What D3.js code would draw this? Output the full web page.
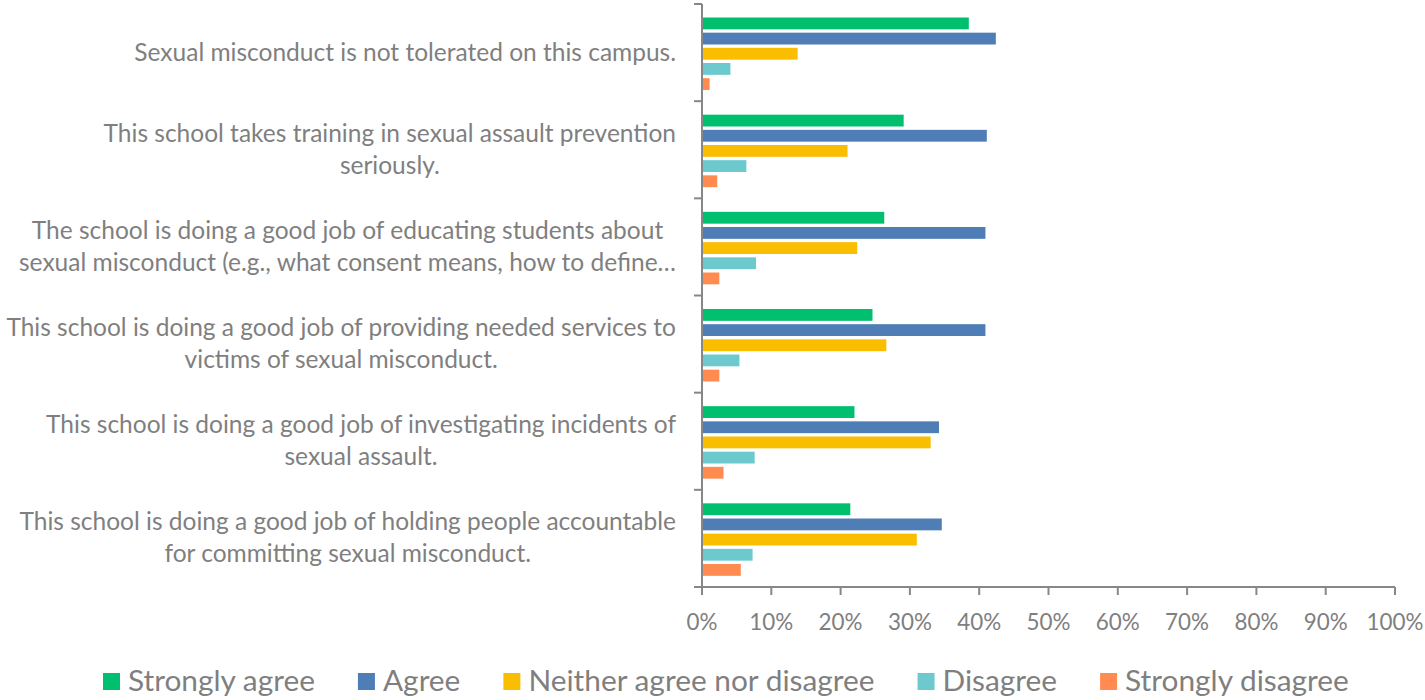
<!DOCTYPE html>
<html><head><meta charset="utf-8">
<script src="https://cdn.jsdelivr.net/npm/d3@7"></script>
<style>body{margin:0;background:#fff}svg{display:block}text{font-family:Lato,"Open Sans",sans-serif}</style>
</head><body><svg id="c" width="1425" height="700"></svg>
<script>
const categories = [
  ["Sexual misconduct is not tolerated on this campus."],
  ["This school takes training in sexual assault prevention", "seriously."],
  ["The school is doing a good job of educating students about", "sexual misconduct (e.g., what consent means, how to define…"],
  ["This school is doing a good job of providing needed services to", "victims of sexual misconduct."],
  ["This school is doing a good job of investigating incidents of", "sexual assault."],
  ["This school is doing a good job of holding people accountable", "for committing sexual misconduct."]
];
const seriesNames = ["Strongly agree", "Agree", "Neither agree nor disagree", "Disagree", "Strongly disagree"];
const stronglyAgree   = [38.5, 29.1, 26.3, 24.6, 22.0, 21.4];
const agree           = [42.4, 41.1, 40.9, 40.9, 34.2, 34.6];
const neither         = [13.8, 21.0, 22.4, 26.6, 33.0, 31.0];
const disagree        = [4.1, 6.4, 7.8, 5.4, 7.6, 7.3];
const stronglyDisagree= [1.1, 2.2, 2.5, 2.5, 3.1, 5.6];
const tickValues = [0,10,20,30,40,50,60,70,80,90,100];
const colors = ["#00BF6F", "#4F7EB7", "#F9BE00", "#6CCACF", "#FF8B50"];
const seriesValues = [stronglyAgree, agree, neither, disagree, stronglyDisagree];

const svg = d3.select("#c");
const x = d3.scaleLinear().domain([0,100]).range([702,1395]);
const y = d3.scaleBand().domain(d3.range(categories.length)).range([4,587]).paddingInner(0).paddingOuter(0);
const inner = d3.scaleBand().domain(d3.range(seriesNames.length)).range([13.5, 86]).paddingInner(0.22).paddingOuter(0);
const axisColor = "#878787", textColor = "#7F7F7F";

function fitSize(sample, target) {
  const t = svg.append("text").attr("font-size", 20).text(sample);
  const w = t.node().getComputedTextLength();
  t.remove();
  return 20 * target / w;
}
const labelSize = Math.min(fitSize(categories[0][0], 549), fitSize(categories[3][0], 670));
const tickSize = fitSize("100%", 57);
const legendSize = fitSize(seriesNames[0], 187);

// bars
seriesValues.forEach((vals, s) => {
  svg.append("g").selectAll("rect").data(vals).join("rect")
    .attr("x", x(0)).attr("y", (d,i) => y(i) + inner(s))
    .attr("width", d => x(d) - x(0)).attr("height", inner.bandwidth())
    .attr("fill", colors[s]);
});

// y axis
const yAxisG = svg.append("g");
yAxisG.append("line").attr("x1", x(0)).attr("x2", x(0)).attr("y1", 4).attr("y2", 587)
  .attr("stroke", axisColor).attr("stroke-width", 2);
const yTicks = d3.range(categories.length + 1).map(i => i < categories.length ? y(i) : 587);
yAxisG.selectAll("line.t").data(yTicks).join("line").attr("class","t")
  .attr("x1", x(0) - 8).attr("x2", x(0)).attr("y1", d => d).attr("y2", d => d)
  .attr("stroke", axisColor).attr("stroke-width", 2);

// x axis
const xAxisG = svg.append("g");
xAxisG.append("line").attr("x1", x(0)-8).attr("x2", x(100)).attr("y1", 587).attr("y2", 587)
  .attr("stroke", axisColor).attr("stroke-width", 2);
xAxisG.selectAll("line.t").data(tickValues).join("line").attr("class","t")
  .attr("x1", d => x(d)).attr("x2", d => x(d)).attr("y1", 587).attr("y2", 595)
  .attr("stroke", axisColor).attr("stroke-width", 2);
xAxisG.selectAll("text").data(tickValues).join("text")
  .attr("x", d => x(d)).attr("y", 630).attr("text-anchor", "middle")
  .attr("font-size", tickSize).attr("fill", textColor).text(d => d + "%");

// category labels: lines centered, block right-aligned at 676
categories.forEach((lines, i) => {
  const cy = y(i) + y.bandwidth()/2;
  const lh = 32;
  const t = svg.append("text").attr("text-anchor", "middle").attr("font-size", labelSize).attr("fill", textColor);
  const spans = lines.map((ln, j) => t.append("tspan")
      .attr("y", cy + (j - (lines.length-1)/2) * lh + 8).text(ln));
  const maxW = d3.max(spans, s => s.node().getComputedTextLength());
  spans.forEach(s => s.attr("x", 676 - maxW/2));
});

// legend
const lg = svg.append("g");
let lx = 103;
seriesNames.forEach((n, i) => {
  lg.append("rect").attr("x", lx).attr("y", 673).attr("width", 17).attr("height", 17).attr("fill", colors[i]);
  const t = lg.append("text").attr("x", lx + 25).attr("y", 691).attr("font-size", legendSize).attr("fill", textColor).text(n);
  lx += 25 + t.node().getComputedTextLength() + 43;
});
</script></body></html>
